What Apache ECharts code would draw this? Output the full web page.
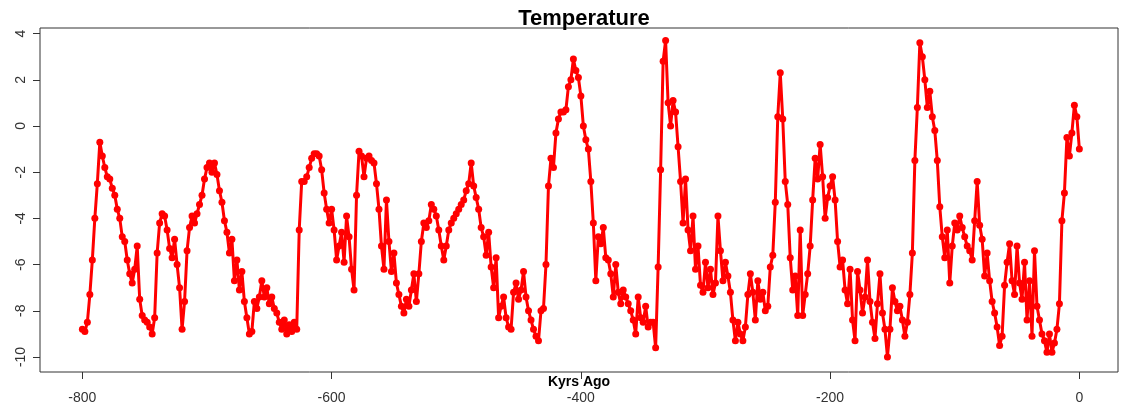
<!DOCTYPE html>
<html>
<head>
<meta charset="utf-8">
<title>Temperature</title>
<script src="https://cdn.jsdelivr.net/npm/echarts@6/dist/echarts.min.js"></script>
<style>
  html, body { margin: 0; padding: 0; background: #fff; }
  #chart { width: 1124px; height: 409px; }
</style>
</head>
<body>
<div id="chart"></div>
<script>
// temperature anomaly, every 2 kyr (oldest first)
var startAge = -800;
var stepKyr = 2;

var temp800 = [-8.8, -8.9, -8.5, -7.3, -5.8, -4.0, -2.5, -0.7, -1.3, -1.8,
    -2.2, -2.3, -2.7, -3.0, -3.6, -4.0, -4.8, -5.0, -5.8, -6.4,
    -6.8, -6.2, -5.2, -7.5, -8.2, -8.4, -8.5, -8.7, -9.0, -8.3,
    -5.5, -4.2, -3.8, -3.9, -4.5, -5.3, -5.7, -4.9, -6.0, -7.0,
    -8.8, -7.6, -5.4, -4.4, -3.9, -4.2, -3.8, -3.4, -3.0, -2.3];
var temp700 = [-1.8, -1.6, -2.0, -1.6, -2.1, -2.8, -3.3, -4.1, -4.6, -5.5,
    -4.9, -6.7, -5.8, -7.1, -6.3, -7.6, -8.3, -9.0, -8.9, -7.6,
    -7.9, -7.4, -6.7, -7.4, -7.0, -7.7, -7.4, -7.9, -8.1, -8.5,
    -8.8, -8.4, -9.0, -8.6, -8.9, -8.5, -8.8, -4.5, -2.4, -2.4,
    -2.2, -1.8, -1.4, -1.2, -1.2, -1.3, -1.9, -2.9, -3.6, -4.2];
var temp600 = [-3.6, -4.5, -5.8, -5.2, -4.6, -5.9, -3.9, -4.8, -6.2, -7.1,
    -3.0, -1.1, -1.3, -2.2, -1.4, -1.3, -1.5, -1.6, -2.5, -3.6,
    -5.2, -6.2, -3.2, -5.0, -6.3, -5.5, -6.8, -7.3, -7.8, -8.1,
    -7.5, -7.8, -7.1, -6.4, -7.6, -6.4, -5.0, -4.2, -4.4, -4.1,
    -3.4, -3.6, -3.9, -4.5, -5.2, -5.8, -5.2, -4.5, -4.2, -4.0];
var temp500 = [-3.8, -3.6, -3.4, -3.2, -2.8, -2.5, -1.6, -2.6, -3.1, -3.6,
    -4.4, -4.8, -5.6, -4.6, -6.1, -7.0, -5.7, -8.3, -7.8, -7.4,
    -8.3, -8.7, -8.8, -7.2, -6.8, -7.5, -7.1, -6.3, -7.4, -8.0,
    -8.4, -8.8, -9.1, -9.3, -8.0, -7.9, -6.0, -2.6, -1.4, -1.8,
    -0.3, 0.3, 0.6, 0.6, 0.7, 1.7, 2.0, 2.9, 2.4, 2.1];
var temp400 = [1.3, 0.0, -0.6, -1.0, -2.4, -4.2, -6.7, -4.8, -5.1, -4.4,
    -5.7, -5.8, -6.4, -7.4, -6.0, -7.2, -7.7, -7.1, -7.4, -7.7,
    -8.0, -8.4, -9.0, -7.4, -8.3, -8.5, -7.8, -8.7, -8.5, -8.5,
    -9.6, -6.1, -1.9, 2.8, 3.7, 1.0, 0.0, 1.1, 0.6, -0.9,
    -2.4, -4.2, -2.3, -4.5, -5.4, -3.9, -6.2, -5.2, -6.9, -7.2];
var temp300 = [-5.9, -7.0, -6.2, -7.3, -6.8, -3.9, -5.4, -6.7, -5.9, -6.5,
    -7.2, -8.4, -9.3, -8.5, -9.0, -9.3, -8.7, -7.3, -6.4, -7.2,
    -8.4, -6.7, -7.5, -7.2, -8.0, -7.8, -6.1, -5.6, -3.3, 0.4,
    2.3, 0.3, -2.4, -3.4, -5.7, -7.1, -6.5, -8.2, -4.5, -8.2,
    -7.3, -6.4, -5.2, -3.2, -1.4, -2.3, -0.8, -2.2, -4.0, -3.1];
var temp200 = [-2.6, -2.2, -3.2, -5.0, -6.1, -5.8, -7.1, -7.7, -6.2, -8.4,
    -9.3, -6.3, -7.1, -8.1, -7.4, -5.8, -7.6, -8.5, -9.2, -7.7,
    -6.4, -8.1, -8.8, -10.0, -8.8, -7.0, -7.6, -8.0, -7.8, -8.4,
    -9.1, -8.5, -7.3, -5.5, -1.5, 0.8, 3.6, 3.0, 2.0, 0.8,
    1.5, 0.4, -0.2, -1.5, -3.5, -4.8, -5.7, -4.5, -6.8, -5.2];
var temp100 = [-4.2, -4.5, -3.9, -4.4, -4.8, -5.2, -5.4, -5.8, -4.1, -2.4,
    -4.3, -4.9, -6.5, -5.5, -6.7, -7.6, -8.1, -8.7, -9.5, -9.1,
    -6.9, -5.9, -5.1, -6.7, -7.3, -5.2, -6.8, -7.5, -5.9, -8.4,
    -6.7, -9.1, -5.4, -7.8, -8.4, -9.0, -9.3, -9.8, -9.0, -9.8,
    -9.4, -8.8, -7.7, -4.1, -2.9, -0.5, -1.3, -0.3, 0.9, 0.4,
    -1.0];

var xTicks = [-800, -600, -400, -200, 0];
var yTicks = [-10, -8, -6, -4, -2, 0, 2, 4];

var temps = [].concat(temp800, temp700, temp600, temp500, temp400, temp300, temp200, temp100);
var points = temps.map(function (v, i) {
    return [startAge + i * stepKyr, v];
});

var font = 'Liberation Sans, Arial, sans-serif';
var chart = echarts.init(document.getElementById('chart'));
chart.setOption({
    backgroundColor: '#fff',
    animation: false,
    title: {
        text: 'Temperature',
        left: 579,
        top: 3,
        textAlign: 'center',
        textStyle: { fontFamily: font, fontSize: 22, fontWeight: 'bold', color: '#000' }
    },
    grid: {
        left: 40,
        right: 6,
        top: 28,
        bottom: 37,
        show: true,
        borderColor: '#333',
        borderWidth: 1,
        outerBoundsMode: 'none'
    },
    xAxis: {
        type: 'value',
        min: -834,
        max: 31,
        name: 'Kyrs Ago',
        nameLocation: 'middle',
        nameGap: 3,
        nameMoveOverlap: false,
        nameTextStyle: { fontFamily: font, fontSize: 14, fontWeight: 'bold', color: '#000', verticalAlign: 'top' },
        axisLine: { show: false, onZero: false },
        splitLine: { show: false },
        axisTick: { show: true, length: 7, customValues: xTicks, lineStyle: { color: '#333' } },
        axisLabel: { customValues: xTicks, margin: 19, fontFamily: font, fontSize: 14, color: '#333' }
    },
    yAxis: {
        type: 'value',
        min: -10.65,
        max: 4.24,
        axisLine: { show: false, onZero: false },
        splitLine: { show: false },
        axisTick: { show: true, length: 7, customValues: yTicks, lineStyle: { color: '#333' } },
        axisLabel: { customValues: yTicks, rotate: 90, margin: 12, fontFamily: font, fontSize: 14, color: '#333' }
    },
    series: [{
        name: 'Temperature',
        type: 'line',
        data: points,
        showSymbol: true,
        showAllSymbol: true,
        symbol: 'circle',
        symbolSize: 7,
        itemStyle: { color: '#ff0000' },
        lineStyle: { color: '#ff0000', width: 3 }
    }]
});
</script>
</body>
</html>
